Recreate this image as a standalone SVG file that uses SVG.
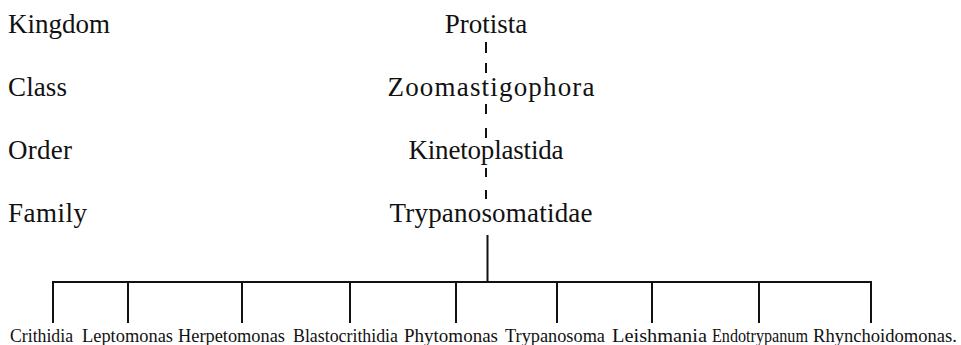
<svg xmlns="http://www.w3.org/2000/svg" width="961" height="345" viewBox="0 0 961 345">
  <style>
    .rank { font-family: "Liberation Serif", "Times New Roman", serif; font-size: 27px; fill: #111; }
    .taxon { font-family: "Liberation Serif", "Times New Roman", serif; font-size: 27px; fill: #111; text-anchor: middle; }
    .genus { font-family: "Liberation Serif", "Times New Roman", serif; font-size: 18px; fill: #111; }
    .link { stroke: #111; stroke-width: 2; fill: none; }
  </style>
  <rect width="961" height="345" fill="#fff"/>

  <!-- rank labels -->
  <g id="ranks">
    <text class="rank" x="8" y="33" textLength="102" lengthAdjust="spacing">Kingdom</text>
    <text class="rank" x="8" y="96" textLength="59" lengthAdjust="spacing">Class</text>
    <text class="rank" x="8" y="159" textLength="64" lengthAdjust="spacing">Order</text>
    <text class="rank" x="8" y="222" textLength="79" lengthAdjust="spacing">Family</text>
  </g>

  <!-- taxonomic chain -->
  <g id="protista"><text class="taxon" x="486" y="33">Protista</text></g>
  <g id="zoomastigophora"><text class="taxon" x="491" y="96" textLength="207" lengthAdjust="spacing">Zoomastigophora</text></g>
  <g id="kinetoplastida"><text class="taxon" x="486" y="159" textLength="155" lengthAdjust="spacing">Kinetoplastida</text></g>
  <g id="trypanosomatidae"><text class="taxon" x="491" y="222" textLength="203" lengthAdjust="spacing">Trypanosomatidae</text></g>

  <!-- connectors -->
  <g id="connectors" class="link">
    <line x1="486" y1="42" x2="486" y2="53"/>
    <line x1="486" y1="63" x2="486" y2="73"/>
    <line x1="486" y1="104" x2="486" y2="114"/>
    <line x1="486" y1="128" x2="486" y2="138"/>
    <line x1="486" y1="168" x2="486" y2="177"/>
    <line x1="486" y1="190" x2="486" y2="199"/>
    <line x1="487.5" y1="235" x2="487.5" y2="282"/>
    <line x1="52" y1="282" x2="872" y2="282"/>
    <line x1="53" y1="282" x2="53" y2="323"/>
    <line x1="128" y1="282" x2="128" y2="323"/>
    <line x1="242" y1="282" x2="242" y2="323"/>
    <line x1="350" y1="282" x2="350" y2="323"/>
    <line x1="456" y1="282" x2="456" y2="323"/>
    <line x1="557" y1="282" x2="557" y2="323"/>
    <line x1="652" y1="282" x2="652" y2="323"/>
    <line x1="759" y1="282" x2="759" y2="323"/>
    <line x1="871" y1="282" x2="871" y2="323"/>
  </g>

  <!-- genera -->
  <g id="crithidia"><text class="genus" x="10" y="342" textLength="63" lengthAdjust="spacingAndGlyphs">Crithidia</text></g>
  <g id="leptomonas"><text class="genus" x="82" y="342" textLength="91" lengthAdjust="spacingAndGlyphs">Leptomonas</text></g>
  <g id="herpetomonas"><text class="genus" x="178" y="342" textLength="107" lengthAdjust="spacingAndGlyphs">Herpetomonas</text></g>
  <g id="blastocrithidia"><text class="genus" x="293" y="342" textLength="105" lengthAdjust="spacingAndGlyphs">Blastocrithidia</text></g>
  <g id="phytomonas"><text class="genus" x="404" y="342" textLength="94" lengthAdjust="spacingAndGlyphs">Phytomonas</text></g>
  <g id="trypanosoma"><text class="genus" x="505" y="342" textLength="100" lengthAdjust="spacingAndGlyphs">Trypanosoma</text></g>
  <g id="leishmania"><text class="genus" x="612" y="342" textLength="95" lengthAdjust="spacingAndGlyphs">Leishmania</text></g>
  <g id="endotrypanum"><text class="genus" x="712" y="342" textLength="96" lengthAdjust="spacingAndGlyphs">Endotrypanum</text></g>
  <g id="rhynchoidomonas"><text class="genus" x="813" y="342" textLength="144" lengthAdjust="spacingAndGlyphs">Rhynchoidomonas.</text></g>
</svg>
